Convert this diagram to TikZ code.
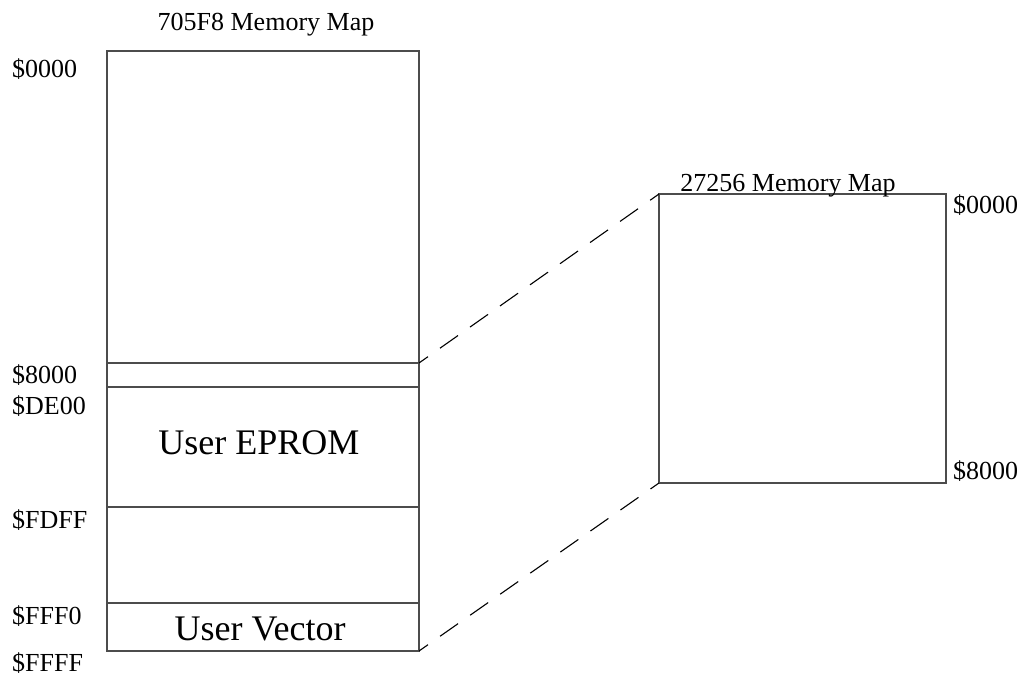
\documentclass[tikz,border=0pt]{standalone}
\usepackage{fontspec}
\setmainfont{Liberation Serif}
\begin{document}
\begin{tikzpicture}[x=1pt,y=-1pt,
  boxline/.style={draw=black!70, line width=1.7pt},
  lbl/.style={inner sep=0pt, font=\fontsize{26}{28}\selectfont},
  big/.style={inner sep=0pt, font=\fontsize{36}{40}\selectfont},
  link/.style={draw=black, line width=1.1pt, dash pattern=on 22pt off 14.7pt, dash phase=11pt}]
\useasboundingbox (0,0) rectangle (1029,687);
% left memory map
\node[boxline, anchor=north west, minimum width=312pt, minimum height=600pt, inner sep=0pt, outer sep=0pt] (lbox) at (107,51) {};
\coordinate (d1l) at (107,363); \coordinate (d1r) at (419,363);
\coordinate (d2l) at (107,387); \coordinate (d2r) at (419,387);
\coordinate (d3l) at (107,507); \coordinate (d3r) at (419,507);
\coordinate (d4l) at (107,603); \coordinate (d4r) at (419,603);
\draw[boxline] (d1l) -- (d1r);
\draw[boxline] (d2l) -- (d2r);
\draw[boxline] (d3l) -- (d3r);
\draw[boxline] (d4l) -- (d4r);
\node[lbl, anchor=base] (t1) at (266,31) {705F8 Memory Map};
\node[lbl, anchor=base west] (a0) at (12,78) {\$0000};
\node[lbl, anchor=base west] (a1) at (12,383) {\$8000};
\node[lbl, anchor=base west] (a2) at (12,414) {\$DE00};
\node[lbl, anchor=base west] (a3) at (12,528) {\$FDFF};
\node[lbl, anchor=base west] (a4) at (12,624) {\$FFF0};
\node[lbl, anchor=base west] (a5) at (12,671) {\$FFFF};
\node[big, anchor=base] (eprom) at (259,454) {User EPROM};
\node[big, anchor=base] (vect) at (260,640) {User Vector};
% right memory map
\node[boxline, anchor=north west, minimum width=287pt, minimum height=289pt, inner sep=0pt, outer sep=0pt] (rbox) at (659,194) {};
\node[lbl, anchor=base] (t2) at (788,192) {27256 Memory Map};
\node[lbl, anchor=base west] (b0) at (953,214) {\$0000};
\node[lbl, anchor=base west] (b1) at (953,479) {\$8000};
% connectors
\draw[link] (d1r) -- (rbox.north west);
\draw[link] (lbox.south east) -- (rbox.south west);
\end{tikzpicture}
\end{document}
